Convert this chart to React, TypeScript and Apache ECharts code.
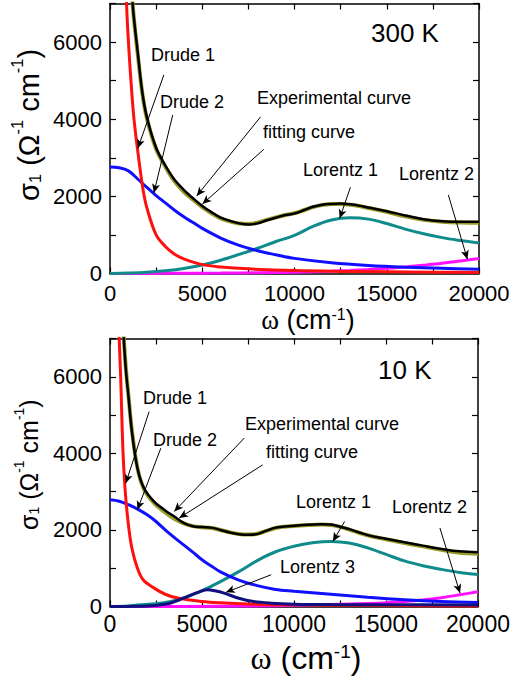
import React, { useEffect, useRef } from 'react';
import * as echarts from 'echarts';

const SANS = '"Liberation Sans", Arial, Helvetica, sans-serif';
const SERIF = '"Liberation Serif", "Times New Roman", serif';

// ---------- 300 K panel ----------
const W300_RED = [600, 800, 900, 1000, 1150, 1300, 1550, 1800, 2000, 2500, 3000, 3500, 4000, 5000, 6000, 7500, 10000, 12500, 15000, 17500, 20000];
const S300_RED = [16000, 10000, 7000, 6000, 4900, 4000, 3000, 2150, 1700, 1000, 700, 500, 380, 230, 170, 120, 75, 55, 45, 35, 25];

const W300_BLUE = [0, 500, 1000, 1500, 2000, 2500, 3000, 3500, 4000, 4500, 5000, 6000, 7000, 8000, 9000, 10000, 12000, 14000, 16000, 18000, 20000];
const S300_BLUE = [2760, 2740, 2660, 2450, 2230, 2020, 1830, 1640, 1470, 1320, 1170, 920, 730, 590, 485, 392, 280, 210, 165, 135, 110];

const W300_L1 = [0, 1000, 2000, 3000, 4000, 5000, 6000, 7000, 8000, 9000, 10000, 11000, 12000, 13000, 14000, 15000, 16000, 17000, 18000, 19000, 20000];
const S300_L1 = [0, 10, 30, 70, 130, 220, 345, 495, 655, 830, 990, 1220, 1385, 1443, 1410, 1295, 1150, 1030, 930, 855, 790];

const W300_L2 = [0, 2000, 4000, 6000, 8000, 10000, 11000, 12000, 13000, 14000, 15000, 16000, 17000, 18000, 19000, 20000];
const S300_L2 = [0, 3, 6, 10, 18, 35, 45, 60, 80, 105, 135, 170, 215, 265, 325, 390];

const W300_EXP = [1000, 1225, 1500, 1750, 2000, 2500, 3000, 3500, 4000, 4500, 5000, 5500, 6000, 6500, 7000, 7500, 8000, 8500, 9000, 9500, 10000, 10500, 11000, 11500, 12000, 12500, 13000, 13500, 14000, 15000, 16000, 17000, 18000, 19000, 20000];
const S300_EXP = [9000, 7000, 5750, 4700, 4050, 3260, 2800, 2430, 2170, 1950, 1750, 1590, 1450, 1365, 1300, 1270, 1300, 1380, 1450, 1515, 1555, 1640, 1730, 1785, 1805, 1814, 1795, 1760, 1710, 1615, 1505, 1408, 1355, 1340, 1340];
const S300_FIT = [9000, 7000, 5700, 4680, 4020, 3230, 2770, 2390, 2120, 1910, 1720, 1560, 1430, 1350, 1295, 1285, 1320, 1390, 1455, 1515, 1565, 1640, 1720, 1775, 1800, 1805, 1785, 1750, 1700, 1600, 1480, 1390, 1340, 1320, 1315];

// ---------- 10 K panel ----------
const W10_RED = [400, 450, 500, 580, 640, 710, 800, 900, 1035, 1200, 1490, 1800, 2400, 3000, 3670, 5000, 6000, 7500, 10000, 15000, 20000];
const S10_RED = [10000, 8000, 7000, 6000, 5000, 4000, 3200, 2600, 2000, 1500, 1000, 700, 480, 320, 220, 130, 95, 65, 45, 25, 15];

const W10_BLUE = [0, 500, 1000, 1500, 2000, 2500, 3000, 3500, 4000, 4500, 5000, 5500, 6000, 7000, 8000, 9000, 10000, 12000, 14000, 16000, 18000, 20000];
const S10_BLUE = [2786, 2750, 2660, 2545, 2400, 2220, 2000, 1800, 1610, 1420, 1220, 1060, 905, 690, 545, 445, 400, 320, 240, 175, 130, 105];

const W10_L1 = [0, 1000, 1500, 2500, 3300, 4200, 5100, 6000, 7000, 8000, 9000, 10000, 11000, 12000, 13000, 14000, 15000, 16000, 17000, 18000, 19000, 20000];
const S10_L1 = [0, 15, 40, 70, 130, 260, 435, 650, 910, 1200, 1430, 1575, 1665, 1700, 1660, 1530, 1360, 1190, 1065, 970, 890, 835];

const W10_L2 = [0, 4000, 8000, 10000, 12000, 14000, 15000, 16000, 17000, 18000, 19000, 20000];
const S10_L2 = [0, 3, 15, 30, 50, 80, 100, 130, 170, 230, 305, 385];

const W10_L3 = [0, 1500, 2400, 3300, 4200, 4900, 5300, 5700, 6200, 7000, 7800, 8750, 10000, 12000, 15000, 20000];
const S10_L3 = [0, 5, 25, 90, 260, 390, 436, 410, 350, 215, 130, 88, 62, 50, 45, 40];

const W10_EXP = [700, 850, 1000, 1200, 1500, 1850, 2400, 3000, 3500, 4000, 4500, 5000, 5500, 6000, 6500, 7000, 7500, 8000, 8500, 9000, 9500, 10000, 11000, 11500, 12000, 12500, 13000, 14000, 15000, 16000, 17000, 18000, 19000, 20000];
const S10_EXP = [7400, 6250, 5500, 4530, 3590, 3090, 2740, 2510, 2350, 2185, 2095, 2075, 2060, 2000, 1935, 1890, 1872, 1890, 1980, 2060, 2090, 2110, 2140, 2150, 2140, 2085, 2020, 1865, 1770, 1680, 1590, 1505, 1440, 1420];
const S10_FIT = [7400, 6300, 5520, 4560, 3600, 3060, 2700, 2460, 2290, 2170, 2100, 2070, 2050, 2000, 1940, 1895, 1880, 1900, 1975, 2050, 2085, 2105, 2130, 2140, 2130, 2080, 2010, 1860, 1755, 1660, 1570, 1480, 1405, 1380];

// axis ticks
const X_MIN = 0, X_MAX = 20000, X_STEP = 2500, X_LABEL_STEP = 5000;
const Y_MIN = 0, Y_MAX = 7000, Y_STEP = 1000, Y_LABEL_STEP = 2000;

// annotation arrows (data coordinates: from label to tip)
const ARROWS_300 = [
  [[2920, 5150], [1510, 3250]],
  [[3400, 4110], [2380, 2090]],
  [[8160, 4060], [4700, 2010]],
  [[8340, 3220], [5010, 1800]],
  [[13030, 2235], [12450, 1430]],
  [[18340, 2035], [19370, 370]],
];
const ARROWS_10 = [
  [[2125, 5090], [856, 3220]],
  [[2763, 4136], [1488, 2525]],
  [[7300, 4400], [3490, 2480]],
  [[8300, 3700], [3760, 2310]],
  [[12750, 2220], [12110, 1700]],
  [[17930, 2050], [19020, 350]],
  [[8760, 830], [6300, 370]],
];

const COLORS = {
  red: '#ff1010',
  blue: '#1010ff',
  teal: '#0f8b8b',
  magenta: '#ff10ff',
  navy: '#101080',
  olive: '#9a9a28',
  black: '#000000',
};

// y-axis title pieces: [text, kind]  kind: n = normal, sub, sup
const Y_TITLE: [string, string][] = [
  ['σ', 'n'], ['1', 'sub'], [' (Ω', 'n'], ['-1', 'sup'], [' cm', 'n'], ['-1', 'sup'], [')', 'n'],
];

const zip = (w: number[], s: number[]) => w.map((x, i) => [x, s[i]]);

let measureCtx: CanvasRenderingContext2D | null = null;
function textWidth(text: string, size: number) {
  if (!measureCtx) measureCtx = document.createElement('canvas').getContext('2d');
  if (!measureCtx) return text.length * size * 0.55;
  measureCtx.font = `${size}px ${SANS}`;
  return measureCtx.measureText(text).width;
}

// rotated (bottom-to-top) title built from plain text pieces
function yTitle(cx: number, yStart: number, big: number, small: number) {
  const els: any[] = [];
  let y = yStart;
  for (const [txt, kind] of Y_TITLE) {
    const size = kind === 'n' ? big : small;
    const off = kind === 'sub' ? big * 0.22 : kind === 'sup' ? -big * 0.4 : 0;
    els.push({
      type: 'text', x: cx + off, y, rotation: Math.PI / 2,
      style: { text: txt, fontSize: size, fontFamily: SANS, fill: '#000', verticalAlign: 'middle' },
    });
    y -= textWidth(txt, size);
  }
  return els;
}

function axesFor(gridIndex: number, xFont: number, xMargin: number, yFont: number) {
  const line = { show: true, onZero: false, lineStyle: { color: '#000', width: 1.5 } };
  const tick = { show: true, inside: true, length: 6, lineStyle: { color: '#000', width: 1.2 } };
  const x = (pos: string, labels: boolean) => ({
    type: 'value', gridIndex, position: pos, min: X_MIN, max: X_MAX, interval: X_STEP,
    axisLine: line, axisTick: tick, splitLine: { show: false },
    axisLabel: {
      show: labels, color: '#000', fontSize: xFont, fontFamily: SANS, margin: xMargin,
      formatter: (v: number) => (v % X_LABEL_STEP === 0 ? String(v) : ''),
    },
  });
  const y = (pos: string, labels: boolean) => ({
    type: 'value', gridIndex, position: pos, min: Y_MIN, max: Y_MAX, interval: Y_STEP,
    axisLine: line, axisTick: tick, splitLine: { show: false },
    axisLabel: {
      show: labels, color: '#000', fontSize: yFont, fontFamily: SANS, margin: 8,
      formatter: (v: number) => (v % Y_LABEL_STEP === 0 ? String(v) : ''),
    },
  });
  return { x: [x('bottom', true), x('top', false)], y: [y('left', true), y('right', false)] };
}

function curve(data: number[][], color: string, xi: number, yi: number, width = 3, extra: any = {}) {
  return {
    type: 'line', data, xAxisIndex: xi, yAxisIndex: yi, smooth: 0.35, showSymbol: false,
    symbol: 'none', clip: true, lineStyle: { color, width }, silent: true, ...extra,
  };
}

function arrows(list: number[][][]) {
  return {
    silent: true, symbol: ['none', 'arrow'], symbolSize: [6, 9], animation: false,
    label: { show: false }, lineStyle: { color: '#000', width: 1, type: 'solid' },
    emphasis: { disabled: true },
    data: list.map(([a, b]) => [{ coord: a }, { coord: b }]),
  };
}

const t = (text: string, x: number, y: number, size = 18) => ({
  type: 'text', x, y,
  style: { text, fontSize: size, fontFamily: SANS, fill: '#000', verticalAlign: 'middle' },
});

function xName(x: number, y: number, big: number, small: number) {
  return {
    type: 'text', x, y,
    style: {
      text: '{w|ω}{a| (cm}{c|-1}{a|)}',
      align: 'center', verticalAlign: 'middle', fill: '#000',
      rich: {
        w: { fontSize: big, fontFamily: SERIF, fill: '#000' },
        a: { fontSize: big, fontFamily: SANS, fill: '#000' },
        c: { fontSize: small, fontFamily: SANS, fill: '#000', verticalAlign: 'top' },
      },
    },
  };
}

export default function App() {
  const ref = useRef<HTMLDivElement>(null);
  useEffect(() => {
    const chart = echarts.init(ref.current!, null, { renderer: 'svg' });
    const a0 = axesFor(0, 22, 9, 22);
    const a1 = axesFor(1, 23, 6, 22);
    const option: any = {
      animation: false,
      backgroundColor: '#fff',
      grid: [
        { left: 110, top: 3.5, width: 369, height: 270 },
        { left: 110, top: 338.5, width: 368.5, height: 268 },
      ],
      xAxis: [...a0.x, ...a1.x],
      yAxis: [...a0.y, ...a1.y],
      series: [
        // 300 K
        curve(zip(W300_L2, S300_L2), COLORS.magenta, 0, 0),
        curve(zip(W300_L1, S300_L1), COLORS.teal, 0, 0),
        curve(zip(W300_BLUE, S300_BLUE), COLORS.blue, 0, 0),
        curve(zip(W300_RED, S300_RED), COLORS.red, 0, 0),
        curve(zip(W300_EXP, S300_FIT), COLORS.olive, 0, 0, 4),
        curve(zip(W300_EXP, S300_EXP), COLORS.black, 0, 0, 2.5, { markLine: arrows(ARROWS_300) }),
        // 10 K
        curve(zip(W10_L2, S10_L2), COLORS.magenta, 2, 2),
        curve(zip(W10_L1, S10_L1), COLORS.teal, 2, 2),
        curve(zip(W10_BLUE, S10_BLUE), COLORS.blue, 2, 2),
        curve(zip(W10_RED, S10_RED), COLORS.red, 2, 2),
        curve(zip(W10_L3, S10_L3), COLORS.navy, 2, 2),
        curve(zip(W10_EXP, S10_FIT), COLORS.olive, 2, 2, 4),
        curve(zip(W10_EXP, S10_EXP), COLORS.black, 2, 2, 2.5, { markLine: arrows(ARROWS_10) }),
      ],
      graphic: [
        ...yTitle(29, 201, 29, 16.5),
        ...yTitle(28.5, 530, 25, 14),
        t('300 K', 371, 33, 26),
        t('Drude 1', 151, 55),
        t('Drude 2', 160, 102),
        t('Experimental curve', 257, 98),
        t('fitting curve', 263, 132),
        t('Lorentz 1', 303, 170),
        t('Lorentz 2', 399, 174),
        xName(308, 320, 27, 16),
        t('10 K', 378, 370, 26),
        t('Drude 1', 143, 398),
        t('Drude 2', 153, 440),
        t('Experimental curve', 245, 424),
        t('fitting curve', 266, 452),
        t('Lorentz 1', 296, 502),
        t('Lorentz 2', 392, 507),
        t('Lorentz 3', 280, 567),
        xName(306, 658, 32, 19),
      ],
    };
    chart.setOption(option);
    return () => chart.dispose();
  }, []);
  return (
    <div
      ref={ref}
      style={{ position: 'absolute', left: 0, top: 0, width: 513, height: 676, background: '#fff' }}
    />
  );
}
